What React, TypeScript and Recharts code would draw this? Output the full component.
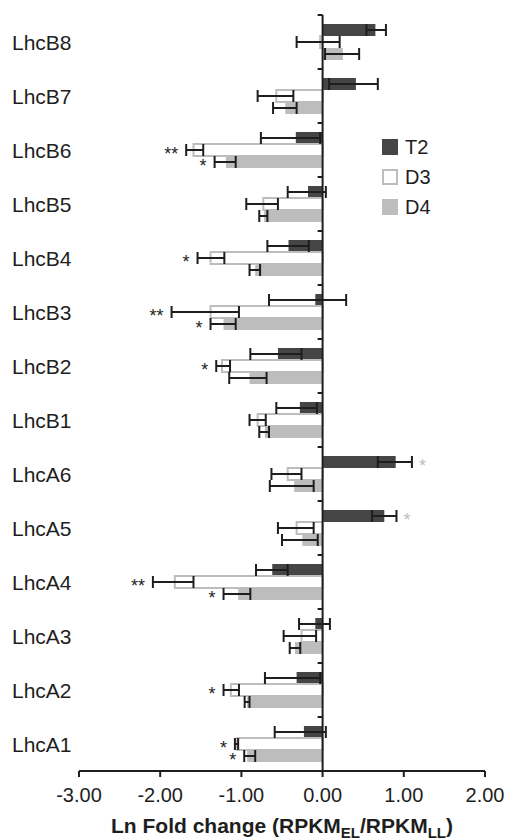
import React from 'react'
import { ComposedChart, Bar, XAxis, YAxis, ErrorBar, ReferenceLine, LabelList, Legend } from 'recharts'

// genes, top to bottom
const categories = ['LhcB8', 'LhcB7', 'LhcB6', 'LhcB5', 'LhcB4', 'LhcB3', 'LhcB2', 'LhcB1', 'LhcA6', 'LhcA5', 'LhcA4', 'LhcA3', 'LhcA2', 'LhcA1']

// ln fold change per time point
const t2Values = [0.65, 0.41, -0.33, -0.18, -0.42, -0.09, -0.55, -0.28, 0.9, 0.76, -0.62, -0.09, -0.32, -0.23]
const d3Values = [-0.03, -0.57, -1.59, -0.73, -1.38, -1.38, -1.24, -0.8, -0.43, -0.32, -1.82, -0.26, -1.13, -1.06]
const d4Values = [0.25, -0.46, -1.19, -0.72, -0.83, -1.22, -0.9, -0.71, -0.35, -0.25, -1.04, -0.34, -0.93, -0.93]

// error bars as [minus, plus]
const t2Errors = [[0.11, 0.13], [0.33, 0.27], [0.43, 0.3], [0.25, 0.22], [0.26, 0.25], [0.57, 0.38], [0.34, 0.29], [0.29, 0.21], [0.22, 0.2], [0.15, 0.15], [0.2, 0.19], [0.2, 0.18], [0.39, 0.29], [0.36, 0.27]]
const d3Errors = [[0.29, 0.24], [0.23, 0.21], [0.09, 0.12], [0.21, 0.18], [0.16, 0.17], [0.48, 0.35], [0.07, 0.1], [0.1, 0.1], [0.2, 0.17], [0.23, 0.21], [0.27, 0.23], [0.22, 0.18], [0.09, 0.1], [0.02, 0.02]]
const d4Errors = [[0.22, 0.2], [0.15, 0.14], [0.14, 0.12], [0.06, 0.04], [0.07, 0.06], [0.16, 0.15], [0.25, 0.21], [0.07, 0.05], [0.3, 0.24], [0.25, 0.19], [0.18, 0.15], [0.065, 0.065], [0.03, 0.03], [0.035, 0.1]]

// significance marks
const t2Sig = ['', '', '', '', '', '', '', '', '*', '*', '', '', '', '']
const d3Sig = ['', '', '**', '', '*', '**', '*', '', '', '', '**', '', '*', '*']
const d4Sig = ['', '', '*', '', '', '*', '', '', '', '', '*', '', '', '*']

const xTicks = [-3, -2, -1, 0, 1, 2]

const FONT = '"Liberation Sans", Arial, Helvetica, sans-serif'
const INK = '#1e1e1e'
const DARK = '#454545'
const LIGHT = '#bdbdbd'

const rows = categories.map((name, i) => ({
  name,
  t2: t2Values[i], t2Err: t2Errors[i], t2Sig: t2Sig[i],
  d3: d3Values[i], d3Err: d3Errors[i], d3Sig: d3Sig[i],
  d4: d4Values[i], d4Err: d4Errors[i], d4Sig: d4Sig[i],
}))

const legendItems = [
  { label: 'T2', fill: DARK, stroke: DARK },
  { label: 'D3', fill: '#ffffff', stroke: LIGHT },
  { label: 'D4', fill: LIGHT, stroke: LIGHT },
]

// star placed just past the end of the error bar
function makeSigMark(values: number[], errors: number[][], color: string) {
  return function SigMark(props: any) {
    const { value, index } = props
    if (!value || index == null) return null
    const vb = props.viewBox || props
    const v = values[index]
    const left = Math.min(vb.x, vb.x + vb.width)
    const right = Math.max(vb.x, vb.x + vb.width)
    const ppu = Math.abs(vb.width) / Math.abs(v)
    const y = vb.y + Math.abs(vb.height) / 2 + 10
    const neg = v < 0
    const x = neg ? left - errors[index][0] * ppu - 8 : right + errors[index][1] * ppu + 7
    return (
      <text x={x} y={y} textAnchor={neg ? 'end' : 'start'} fontSize={18} fontFamily={FONT} fill={color}>
        {value}
      </text>
    )
  }
}

const T2Mark = makeSigMark(t2Values, t2Errors, LIGHT)
const D3Mark = makeSigMark(d3Values, d3Errors, INK)
const D4Mark = makeSigMark(d4Values, d4Errors, INK)

function ZeroAxis(props: any) {
  const { x1, y1, y2 } = props
  const top = Math.min(y1, y2)
  const bottom = Math.max(y1, y2)
  const step = (bottom - top) / categories.length
  return (
    <g>
      <line x1={x1} x2={x1} y1={top} y2={bottom + 1} stroke={INK} strokeWidth={2} />
      {Array.from({ length: categories.length + 1 }, (_, i) => (
        <line key={i} x1={x1 - 5} x2={x1} y1={top + i * step} y2={top + i * step} stroke={INK} strokeWidth={2} />
      ))}
    </g>
  )
}

function CategoryTick(props: any) {
  const { y, payload } = props
  return (
    <text x={12} y={y} dy="0.36em" textAnchor="start" fontSize={21} fontFamily={FONT} fill={INK}>
      {payload.value}
    </text>
  )
}

function AxisTitle(props: any) {
  const vb = props.viewBox
  return (
    <text x={vb.x + vb.width / 2} y={vb.y + 62} textAnchor="middle" fontSize={21} fontWeight="bold" fontFamily={FONT} fill={INK}>
      Ln Fold change (RPKM
      <tspan fontSize={15} dy={5}>EL</tspan>
      <tspan dy={-5}>/RPKM</tspan>
      <tspan fontSize={15} dy={5}>LL</tspan>
      <tspan dy={-5}>)</tspan>
    </text>
  )
}

function LegendBox() {
  return (
    <div style={{ fontFamily: FONT, color: INK }}>
      {legendItems.map((it) => (
        <div key={it.label} style={{ display: 'flex', alignItems: 'center', height: 30 }}>
          <span style={{ width: 16, height: 16, boxSizing: 'border-box', background: it.fill, border: `2px solid ${it.stroke}` }} />
          <span style={{ marginLeft: 7, fontSize: 20, lineHeight: '20px' }}>{it.label}</span>
        </div>
      ))}
    </div>
  )
}

export default function App() {
  return (
    <div style={{ position: 'absolute', left: 0, top: 0, width: 508, height: 840, background: '#fff' }}>
      <ComposedChart
        width={508}
        height={840}
        data={rows}
        layout="vertical"
        margin={{ top: 15, right: 23, bottom: 0, left: 0 }}
        barSize={12}
        barGap={0}
      >
        <XAxis
          type="number"
          domain={[-3, 2]}
          ticks={xTicks}
          allowDataOverflow
          tickFormatter={(v: number) => v.toFixed(2)}
          axisLine={{ stroke: INK, strokeWidth: 2 }}
          tickLine={{ stroke: INK, strokeWidth: 2 }}
          tickSize={6}
          tickMargin={11}
          tick={{ fill: INK, fontSize: 20, fontFamily: FONT }}
          height={69}
          label={<AxisTitle />}
        />
        <YAxis
          type="category"
          dataKey="name"
          width={79}
          interval={0}
          axisLine={false}
          tickLine={false}
          tick={<CategoryTick />}
        />
        <Legend
          layout="vertical"
          align="center"
          verticalAlign="middle"
          content={<LegendBox />}
          wrapperStyle={{ left: 382, top: 132, width: 'auto' }}
        />
        <Bar dataKey="t2" name="T2" fill={DARK} isAnimationActive={false}>
          <ErrorBar dataKey="t2Err" direction="x" width={6} stroke={INK} strokeWidth={2} />
          <LabelList dataKey="t2Sig" content={<T2Mark />} />
        </Bar>
        <Bar dataKey="d3" name="D3" fill="#ffffff" stroke={LIGHT} strokeWidth={2} isAnimationActive={false}>
          <ErrorBar dataKey="d3Err" direction="x" width={6} stroke={INK} strokeWidth={2} />
          <LabelList dataKey="d3Sig" content={<D3Mark />} />
        </Bar>
        <Bar dataKey="d4" name="D4" fill={LIGHT} isAnimationActive={false}>
          <ErrorBar dataKey="d4Err" direction="x" width={6} stroke={INK} strokeWidth={2} />
          <LabelList dataKey="d4Sig" content={<D4Mark />} />
        </Bar>
        <ReferenceLine x={0} shape={ZeroAxis} />
      </ComposedChart>
    </div>
  )
}
